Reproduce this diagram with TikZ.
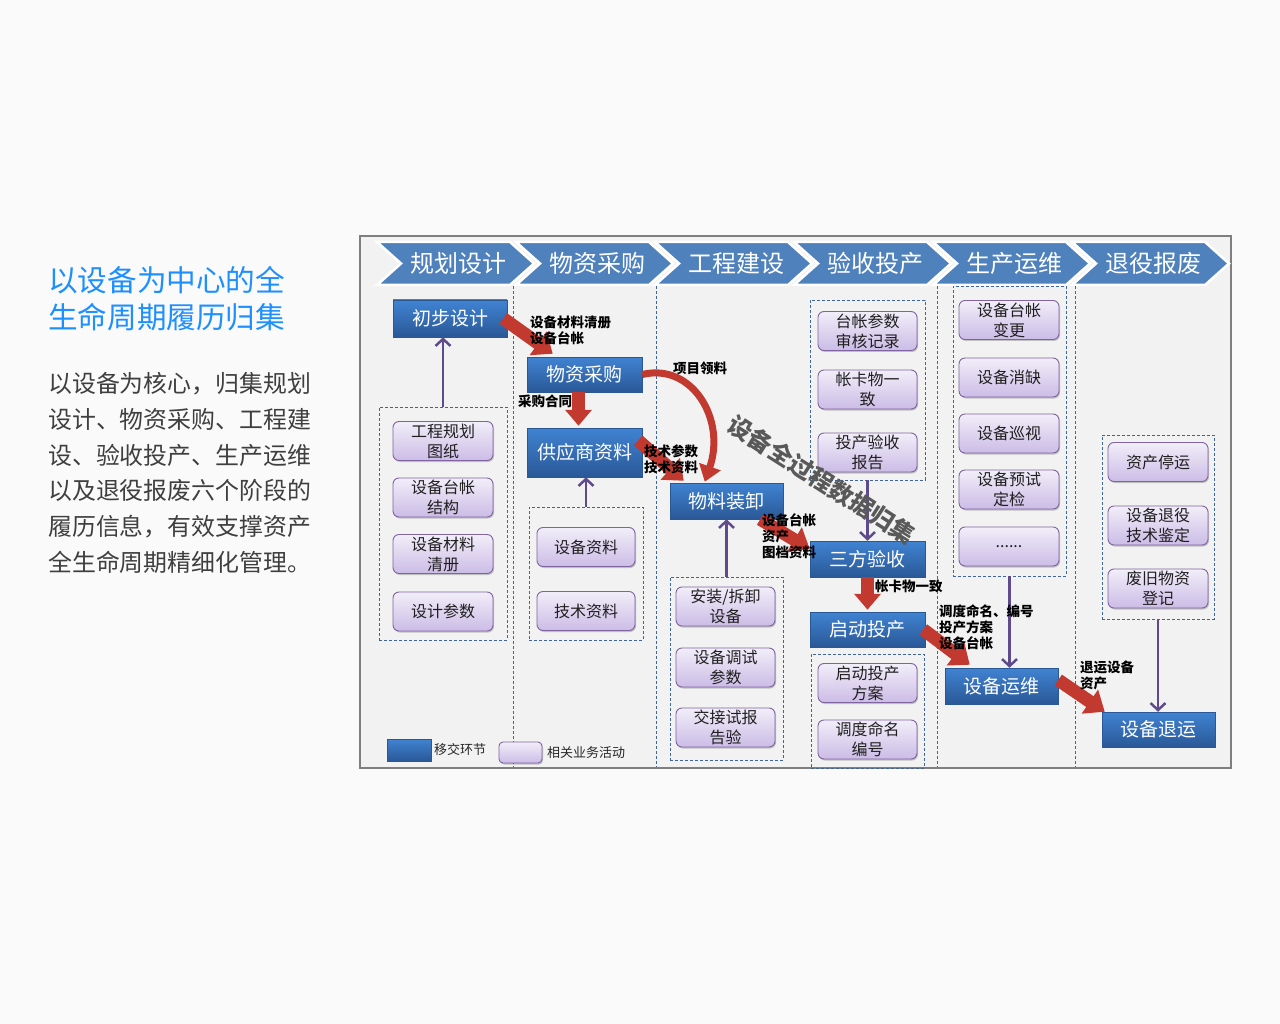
\documentclass[tikz,border=0pt]{standalone}
\usepackage{fontspec}
\setmainfont{Noto Sans CJK SC}
\usetikzlibrary{arrows.meta,shadows,calc}

\definecolor{bgc}{HTML}{FAFAFA}
\definecolor{panel}{HTML}{F2F2F2}
\definecolor{framec}{HTML}{7F7F7F}
\definecolor{chev}{HTML}{4F81BD}
\definecolor{handtop}{HTML}{4083D2}
\definecolor{handbot}{HTML}{2A5897}
\definecolor{acttop}{HTML}{F2EEF9}
\definecolor{actbot}{HTML}{CBBCE6}
\definecolor{actline}{HTML}{8064A2}
\definecolor{dashc}{HTML}{3F6497}
\definecolor{flowred}{HTML}{C1392F}
\definecolor{flowhi}{HTML}{D2544B}
\definecolor{linkp}{HTML}{5F4B8B}
\definecolor{titleblue}{HTML}{1E8FFF}
\definecolor{bodygray}{HTML}{3F3F3F}

\begin{document}
\begin{tikzpicture}[x=1pt,y=-1pt,
  handoff/.style={rectangle, draw=handbot, line width=0.5pt,
    top color=handtop, bottom color=handbot, text=white,
    font=\fontsize{19}{22}\selectfont, inner sep=0pt},
  activity/.style={rectangle, rounded corners=6pt, draw=actline, line width=0.9pt,
    top color=acttop, bottom color=actbot, text=black!88,
    font=\fontsize{16}{20}\selectfont, align=center, inner sep=0pt,
    minimum height=39pt,
    drop shadow={shadow xshift=1pt, shadow yshift=-1.5pt, opacity=0.3, fill=black!70}},
  group/.style={rectangle, draw=dashc, dash pattern=on 3pt off 2pt, line width=0.8pt, inner sep=0pt},
  sep/.style={draw=dashc, dash pattern=on 3pt off 2pt, line width=0.8pt},
  headtext/.style={text=white, font=\fontsize{24}{28}\selectfont, inner sep=0pt},
  flow/.style={draw=flowred, line width=13pt, -{Triangle[width=28pt,length=18pt]}},
  flowv/.style={draw=flowred, line width=13pt, -{Triangle[width=26pt,length=16pt]}},
  link/.style={draw=linkp, line width=2.5pt, -{Straight Barb[length=7pt,width=15pt]}},
  note/.style={font=\fontsize{13.5}{16}\selectfont\bfseries, align=left, anchor=west, inner sep=0pt, text=black},
  legendtext/.style={font=\fontsize{13}{16}\selectfont, anchor=west, inner sep=0pt, text=black!85},
  bodytext/.style={font=\fontsize{23.9}{30}\selectfont, text=bodygray, anchor=west, inner sep=0pt},
  titletext/.style={font=\fontsize{29.6}{36}\selectfont, text=titleblue, anchor=west, inner sep=0pt}
]
% page background
\fill[bgc] (0,0) rectangle (1280,1024);
\useasboundingbox (0,0) rectangle (1280,1024);

% left-hand heading and description
\node[titletext] (title1) at (48,280) {以设备为中心的全};
\node[titletext] (title2) at (48,317) {生命周期履历归集};
\foreach \ln [count=\k from 0] in {以设备为核心，归集规划,设计、物资采购、工程建,设、验收投产、生产运维,以及退役报废六个阶段的,履历信息，有效支撑资产,全生命周期精细化管理。}
  \node[bodytext] (body\k) at (48,{384+35.6*\k}) {\ln};

% diagram panel
\draw[fill=panel, draw=framec, line width=2.2pt] (360,236) rectangle (1231,768);

% stage chevrons
\foreach \name [count=\i from 0] in {规划设计,物资采购,工程建设,验收投产,生产运维,退役报废} {
  \pgfmathsetmacro{\xa}{377+139*\i}
  \fill[chev, draw=white, line width=2.5pt, line join=miter]
    (\xa,242) -- ({\xa+133},242) -- ({\xa+157},263.5) -- ({\xa+133},285)
    -- (\xa,285) -- ({\xa+24},263.5) -- cycle;
  \node[headtext] (stage\i) at ({\xa+81},263.5) {\name};
}

% column separators
\foreach \xs in {513,656,937,1075}
  \draw[sep] (\xs,286) -- (\xs,767);

% activity groups
\node[group, minimum width=128pt, minimum height=233pt] (g1) at (443,523.5) {};
\node[group, minimum width=114pt, minimum height=133pt] (g2) at (586,573.5) {};
\node[group, minimum width=113pt, minimum height=183pt] (g3) at (726.5,668.5) {};
\node[group, minimum width=115pt, minimum height=180pt] (g4a) at (867.5,390) {};
\node[group, minimum width=113pt, minimum height=114pt] (g4b) at (867.5,711) {};
\node[group, minimum width=113pt, minimum height=290pt] (g5) at (1009.5,431) {};
\node[group, minimum width=112pt, minimum height=184pt] (g6) at (1158,527) {};

% activities: planning
\node[activity, minimum width=100pt] (ghtz) at (443,441) {工程规划\\图纸};
\node[activity, minimum width=100pt] (sbtzjg) at (443,497.5) {设备台帐\\结构};
\node[activity, minimum width=100pt] (sbclqc) at (443,554) {设备材料\\清册};
\node[activity, minimum width=100pt] (sjcs) at (443,611.5) {设计参数};
% activities: procurement
\node[activity, minimum width=98pt] (sbzl) at (586,547) {设备资料};
\node[activity, minimum width=98pt] (jszl) at (586,611) {技术资料};
% activities: construction
\node[activity, minimum width=99pt] (azcx) at (725.5,606.5) {安装/拆卸\\设备};
\node[activity, minimum width=99pt] (sbtscs) at (725.5,667.5) {设备调试\\参数};
\node[activity, minimum width=99pt] (jjsy) at (725.5,727.5) {交接试报\\告验};
% activities: acceptance
\node[activity, minimum width=99pt] (tzcs) at (867.5,331) {台帐参数\\审核记录};
\node[activity, minimum width=99pt] (zkwyz) at (867.5,389.5) {帐卡物一\\致};
\node[activity, minimum width=99pt] (tcysbg) at (867.5,452.5) {投产验收\\报告};
\node[activity, minimum width=99pt] (qdtcfa) at (867.5,683) {启动投产\\方案};
\node[activity, minimum width=99pt] (ddmmbh) at (867.5,739.5) {调度命名\\编号};
% activities: operation
\node[activity, minimum width=100pt] (tzbg) at (1009,320) {设备台帐\\变更};
\node[activity, minimum width=100pt] (sbxq) at (1009,377.5) {设备消缺};
\node[activity, minimum width=100pt] (sbxs) at (1009,433.5) {设备巡视};
\node[activity, minimum width=100pt] (sbys) at (1009,489.5) {设备预试\\定检};
\node[activity, minimum width=100pt] (more) at (1009,546.5) {......};
% activities: retirement
\node[activity, minimum width=100pt] (zcty) at (1158,462) {资产停运};
\node[activity, minimum width=100pt] (sbtyjd) at (1158,525.5) {设备退役\\技术鉴定};
\node[activity, minimum width=100pt] (fjwz) at (1158,588.5) {废旧物资\\登记};

% hand-over steps
\node[handoff, minimum width=114pt, minimum height=37pt] (cbsj) at (450,318.5) {初步设计};
\node[handoff, minimum width=115pt, minimum height=35pt] (wzcg) at (584.5,374.5) {物资采购};
\node[handoff, minimum width=115pt, minimum height=49pt] (gyszl) at (584.5,452.5) {供应商资料};
\node[handoff, minimum width=113pt, minimum height=36pt] (wlzx) at (726.5,501) {物料装卸};
\node[handoff, minimum width=115pt, minimum height=36pt] (sfys) at (867.5,559) {三方验收};
\node[handoff, minimum width=115pt, minimum height=35pt] (qdtc) at (867.5,629.5) {启动投产};
\node[handoff, minimum width=113pt, minimum height=36pt] (sbyw) at (1001.5,686) {设备运维};
\node[handoff, minimum width=113pt, minimum height=35pt] (sbty) at (1158.5,729.5) {设备退运};

% activities feed their hand-over step
\draw[link] (g1.north) -- (g1.north |- cbsj.south);
\draw[link] (g2.north) -- (g2.north |- gyszl.south);
\draw[link] (g3.north) -- (g3.north |- wlzx.south);
\draw[link] (g4a.south) -- (g4a.south |- sfys.north);
\draw[link] (g5.south) -- (g5.south |- sbyw.north);
\draw[link] (g6.south) -- (g6.south |- sbty.north);

% data hand-over flow
\draw[flow] ([xshift=-4pt]cbsj.east) -- ([xshift=26pt,yshift=3pt]wzcg.north west);
\draw[flowv] ([xshift=-6pt]wzcg.south) -- ([xshift=-6pt,yshift=2pt]gyszl.north);
\draw[draw=flowred, line width=7pt, -{Triangle[width=22pt,length=16pt]}]
  (wzcg.east) .. controls ([xshift=50pt,yshift=12pt]wzcg.east) and ([xshift=84pt,yshift=-45pt]wzcg.east)
  .. ([xshift=35pt,yshift=1pt]wlzx.north west);
\draw[flow] ([xshift=-4pt,yshift=12pt]gyszl.east) -- ([xshift=14pt,yshift=2pt]wlzx.north west);
\draw[flow] ([xshift=-23pt]wlzx.south east) -- ([yshift=10pt]sfys.west);
\draw[flowv] (sfys.south) -- ([yshift=2pt]qdtc.north);
\draw[flow] ([xshift=-2pt]qdtc.east) -- ([xshift=25pt,yshift=3pt]sbyw.north west);
\draw[flow] ([yshift=6pt]sbyw.east) -- ([xshift=3pt]sbty.north west);

% flow annotations
\node[note] (n1) at (530,330) {设备材料清册\\设备台帐};
\node[note] (n2) at (673,368) {项目领料};
\node[note] (n3) at (518,401) {采购合同};
\node[note] (n4) at (644,459.5) {技术参数\\技术资料};
\node[note] (n5) at (762,536) {设备台帐\\资产\\图档资料};
\node[note] (n6) at (875,586) {帐卡物一致};
\node[note] (n7) at (939,627) {调度命名、编号\\投产方案\\设备台帐};
\node[note] (n8) at (1080,675) {退运设备\\资产};

% legend
\node[handoff, minimum width=44pt, minimum height=22pt] (keyhand) at (409,750) {};
\node[legendtext] (keyhandt) at (434,750) {移交环节};
\node[activity, minimum width=43pt, minimum height=21pt, rounded corners=4pt] (keyact) at (520.5,752.5) {};
\node[legendtext] (keyactt) at (547,752.5) {相关业务活动};

% slanted caption
\node[rotate=-32.5, text=black!65, font=\fontsize{24}{28}\selectfont\bfseries, inner sep=0pt] (caption) at (821.5,480) {设备全过程数据归集};
\end{tikzpicture}
\end{document}
